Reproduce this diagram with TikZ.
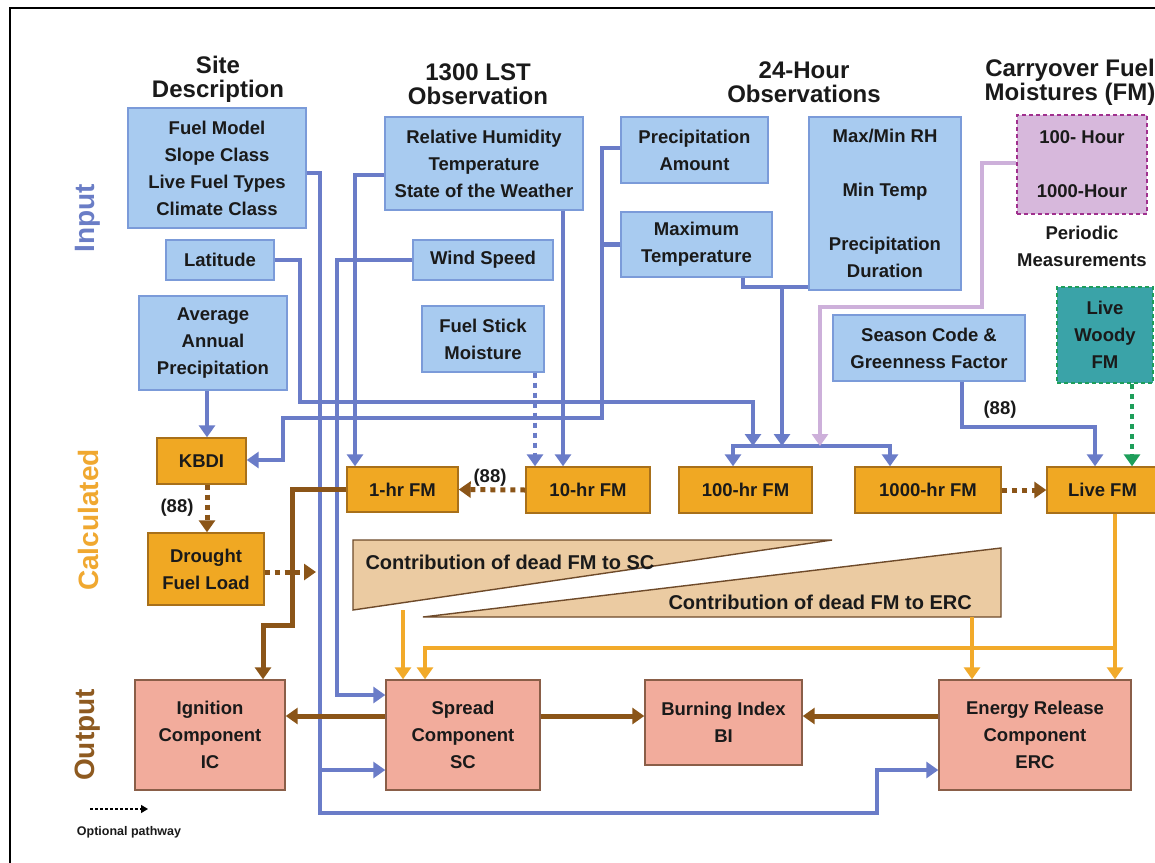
\documentclass[tikz,border=0pt]{standalone}
\usepackage{fontspec}
\setmainfont{Liberation Sans}
\usetikzlibrary{arrows.meta}

\definecolor{boxblue}{HTML}{A8CBF0}
\definecolor{boxblueline}{HTML}{7B9BD9}
\definecolor{lineblue}{HTML}{6A7CC8}
\definecolor{calcfill}{HTML}{F0A823}
\definecolor{calcline}{HTML}{A8701A}
\definecolor{outfill}{HTML}{F2AC9C}
\definecolor{outline}{HTML}{8A5E48}
\definecolor{tanfill}{HTML}{EBCBA2}
\definecolor{tanline}{HTML}{6E4A2A}
\definecolor{brownline}{HTML}{8B5518}
\definecolor{orangeline}{HTML}{F2AA2A}
\definecolor{purpfill}{HTML}{D7B8DC}
\definecolor{purpdash}{HTML}{A0308E}
\definecolor{purpline}{HTML}{CDB0DA}
\definecolor{tealfill}{HTML}{3AA3A8}
\definecolor{greendash}{HTML}{1E9E5A}
\definecolor{inputcol}{HTML}{6A7DC6}
\definecolor{calccol}{HTML}{F0A830}
\definecolor{outputcol}{HTML}{8E5A20}
\definecolor{ink}{HTML}{1A1A1A}

\tikzset{
  boxtext/.style={font=\fontsize{18.5}{27}\selectfont\bfseries, text=ink, align=center, inner sep=0pt},
  inbox/.style={boxtext, draw=boxblueline, fill=boxblue, line width=1.4pt},
  calcbox/.style={boxtext, draw=calcline, fill=calcfill, line width=1.4pt},
  outbox/.style={boxtext, draw=outline, fill=outfill, line width=1.4pt},
  heading/.style={font=\fontsize{24}{24}\selectfont\bfseries, text=ink, align=center},
  sidelabel/.style={font=\fontsize{28}{28}\selectfont\bfseries, rotate=90},
  tip/.style={-{Triangle[width=16pt,length=12pt]}},
  bl/.style={draw=lineblue, line width=4.5pt},
  br/.style={draw=brownline, line width=5pt},
  orl/.style={draw=orangeline, line width=4.2pt},
  dots/.style={dash pattern=on 5pt off 5pt},
}

\begin{document}
\begin{tikzpicture}[x=1pt,y=-1pt]
\useasboundingbox (0,0) rectangle (1155,862);
\fill[white] (0,0) rectangle (1155,862);

% outer frame
\draw[line width=2pt] (10,880) -- (10,8) -- (1180,8);

% row labels
\node[sidelabel, text=inputcol] (lblin) at (88,218) {Input};
\node[sidelabel, text=calccol] (lblcalc) at (88,520) {Calculated};
\node[sidelabel, text=outputcol] (lblout) at (88,735) {Output};

% column headings
\node[heading] (hsite) at (218,79) {Site\\Description};
\node[heading] (hlst) at (478,84) {1300 LST\\Observation};
\node[heading] (h24) at (804,82) {24-Hour\\Observations};
\node[heading] (hcarry) at (1070,82) {Carryover Fuel\\Moistures (FM)};

% input boxes
\node[inbox, minimum width=178, minimum height=120] (site) at (217,168)
  {Fuel Model\\Slope Class\\Live Fuel Types\\Climate Class};
\node[inbox, minimum width=108, minimum height=40] (lat) at (220,260) {Latitude};
\node[inbox, minimum width=148, minimum height=94] (aap) at (213,343)
  {Average\\Annual\\Precipitation};
\node[inbox, minimum width=198, minimum height=93] (rh) at (484,163.5)
  {Relative Humidity\\Temperature\\State of the Weather};
\node[inbox, minimum width=140, minimum height=40] (wind) at (483,260) {Wind Speed};
\node[inbox, minimum width=122, minimum height=66] (fsm) at (483,339)
  {Fuel Stick\\Moisture};
\node[inbox, minimum width=147, minimum height=66] (pa) at (694.5,150)
  {Precipitation\\Amount};
\node[inbox, minimum width=151, minimum height=65] (mt) at (696.5,244.5)
  {Maximum\\Temperature};
\node[inbox, minimum width=152, minimum height=173] (obs) at (885,203.5)
  {Max/Min RH\\[27pt]Min Temp\\[27pt]Precipitation\\Duration};
\node[boxtext, draw=purpdash, fill=purpfill, line width=2pt, dash pattern=on 4pt off 3pt,
  minimum width=130, minimum height=99] (carry) at (1082,164.5)
  {100- Hour\\[27pt]1000-Hour};
\node[boxtext] (periodic) at (1082,246) {Periodic\\Measurements};
\node[inbox, minimum width=192, minimum height=66] (season) at (929,348)
  {Season Code \&\\Greenness Factor};
\node[boxtext, draw=greendash, fill=tealfill, line width=2pt, dash pattern=on 4pt off 3pt,
  minimum width=96, minimum height=96] (woody) at (1105,335)
  {Live\\Woody\\FM};

% calculated boxes
\node[calcbox, minimum width=89, minimum height=46] (kbdi) at (201.5,461) {KBDI};
\node[calcbox, minimum width=116, minimum height=72] (dfl) at (206,569)
  {Drought\\Fuel Load};
\node[calcbox, minimum width=111, minimum height=45] (fm1) at (402.5,489.5) {1-hr FM};
\node[calcbox, minimum width=124, minimum height=46] (fm10) at (588,490) {10-hr FM};
\node[calcbox, minimum width=133, minimum height=46] (fm100) at (745.5,490) {100-hr FM};
\node[calcbox, minimum width=146, minimum height=46] (fm1000) at (928,490) {1000-hr FM};
\node[calcbox, minimum width=111, minimum height=46] (live) at (1102.5,490) {Live FM};

% dead fuel moisture contribution wedges
\draw[fill=tanfill, draw=tanline, line width=1.4pt] (353,540) -- (832,540) -- (353,610) -- cycle;
\draw[fill=tanfill, draw=tanline, line width=1.4pt] (423,617) -- (1001,548) -- (1001,617) -- cycle;
\node[font=\fontsize{20}{20}\selectfont\bfseries, text=ink, anchor=west] (csc) at (362,562)
  {Contribution of dead FM to SC};
\node[font=\fontsize{20}{20}\selectfont\bfseries, text=ink, anchor=west] (cerc) at (665,602)
  {Contribution of dead FM to ERC};
\coordinate (wedgesc) at (403,610);
\coordinate (wedgeerc) at (972,617);

% output boxes
\node[outbox, minimum width=150, minimum height=110] (ic) at (210,735)
  {Ignition\\Component\\IC};
\node[outbox, minimum width=154, minimum height=110] (sc) at (463,735)
  {Spread\\Component\\SC};
\node[outbox, minimum width=157, minimum height=85] (bi) at (723.5,722.5)
  {Burning Index\\BI};
\node[outbox, minimum width=192, minimum height=110] (erc) at (1035,735)
  {Energy Release\\Component\\ERC};

% ---- blue input pathways ----
\draw[bl, tip] (site.east |- 0,173) -- (320,173) -- (320,813) -- (877,813) -- (877,770)
  -- (erc.west |- 0,770);
\draw[bl, tip] (320,770) -- (sc.west |- 0,770);
\draw[bl, tip] (wind.west) -- (337,260) -- (337,695) -- (sc.west |- 0,695);
\draw[bl, tip] (rh.west |- 0,175) -- (355,175) -- (fm1.north -| 355,0);
\draw[bl, tip] (rh.south -| 563,0) -- (fm10.north -| 563,0);
\draw[bl, tip] (lat.east) -- (300,260) -- (300,402) -- (753,402) -- (753,446);
\draw[bl, tip] (pa.west |- 0,148) -- (602,148) -- (602,418) -- (283,418) -- (283,460)
  -- (kbdi.east |- 0,460);
\draw[bl] (mt.west) -- (602,244.5);
\draw[bl] (mt.south -| 743,0) -- (743,287) -- (obs.south west |- 0,287);
\draw[bl, tip] (782,287) -- (782,446);
\draw[bl, {Triangle[width=16pt,length=12pt]}-{Triangle[width=16pt,length=12pt]}]
  (fm100.north -| 733,0) -- (733,446) -- (890,446) -- (fm1000.north -| 890,0);
\draw[bl, dots, tip] (fsm.south -| 535,0) -- (fm10.north -| 535,0);
\draw[bl, tip] (season.south -| 962,0) -- (962,427) -- (1095,427) -- (live.north -| 1095,0);
\node[boxtext] (l88c) at (1000,410) {(88)};
\draw[bl, tip] (aap.south -| 207,0) -- (kbdi.north -| 207,0);

% carryover and live woody inputs
\draw[draw=purpline, line width=4.5pt, tip] (carry.west |- 0,163) -- (982,163) -- (982,307)
  -- (820,307) -- (820,446);
\draw[draw=greendash, line width=4.5pt, dots, tip] (woody.south -| 1132,0) -- (live.north -| 1132,0);

% ---- brown pathways ----
\draw[br, dots, tip] (fm10.west) -- (fm1.east);
\node[boxtext] (l88a) at (490,478) {(88)};
\draw[br, dots, tip] (kbdi.south -| 207,0) -- (dfl.north -| 207,0);
\node[boxtext] (l88b) at (177,508) {(88)};
\coordinate (dflend) at (316,572);
\draw[br, dots, tip] (dfl.east |- 0,572) -- (dflend);
\draw[br, tip] (fm1.west) -- (292,489.5) -- (292,625) -- (263,625) -- (ic.north -| 263,0);
\draw[br, tip] (sc.west |- 0,716) -- (ic.east |- 0,716);
\draw[br, tip] (sc.east |- 0,716) -- (bi.west |- 0,716);
\draw[br, tip] (erc.west |- 0,716) -- (bi.east |- 0,716);
\draw[br, dots, tip] (fm1000.east) -- (live.west);

% ---- orange pathways ----
\draw[orl, tip] (wedgesc) -- (sc.north -| 403,0);
\draw[orl, tip] (live.south -| 1115,0) -- (erc.north -| 1115,0);
\draw[orl, tip] (1115,648) -- (425,648) -- (sc.north -| 425,0);
\draw[orl, tip] (wedgeerc) -- (erc.north -| 972,0);

% legend
\coordinate (legs) at (90,809);
\coordinate (lege) at (148,809);
\draw[line width=1.3pt, dash pattern=on 3pt off 2pt, -{Triangle[width=8pt,length=7pt]}] (legs) -- (lege);
\node[font=\fontsize{12.5}{12.5}\selectfont\bfseries, text=ink] (legtext) at (129,832) {Optional pathway};
\end{tikzpicture}
\end{document}
